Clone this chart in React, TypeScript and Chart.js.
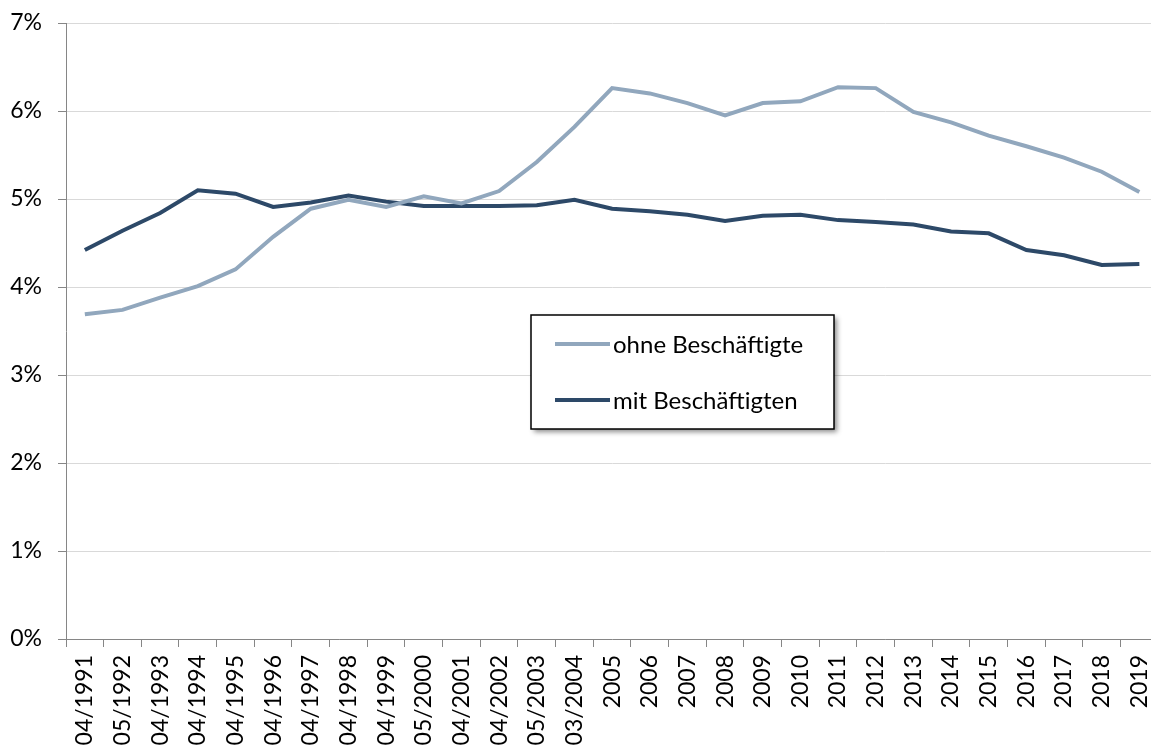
import React, { useEffect, useRef } from "react";
import { Chart, registerables } from "chart.js";

Chart.register(...registerables);

const categories = [
  "04/1991", "05/1992", "04/1993", "04/1994", "04/1995", "04/1996", "04/1997",
  "04/1998", "04/1999", "05/2000", "04/2001", "04/2002", "05/2003", "03/2004",
  "2005", "2006", "2007", "2008", "2009", "2010", "2011", "2012", "2013",
  "2014", "2015", "2016", "2017", "2018", "2019",
];

const ohneBeschaeftigte = [
  3.69, 3.74, 3.88, 4.01, 4.2, 4.57, 4.89, 4.99, 4.91, 5.03, 4.95, 5.09, 5.42,
  5.82, 6.26, 6.2, 6.09, 5.95, 6.09, 6.11, 6.27, 6.26, 5.99, 5.87, 5.72, 5.6,
  5.47, 5.31, 5.08,
];

const mitBeschaeftigten = [
  4.42, 4.64, 4.84, 5.1, 5.06, 4.91, 4.96, 5.04, 4.97, 4.92, 4.92, 4.92, 4.93,
  4.99, 4.89, 4.86, 4.82, 4.75, 4.81, 4.82, 4.76, 4.74, 4.71, 4.63, 4.61, 4.42,
  4.36, 4.25, 4.26,
];

const yTicks = [0, 1, 2, 3, 4, 5, 6, 7];

const FONT = "Lato, 'Open Sans', sans-serif";
const LIGHT = "#91a7bd";
const DARK = "#2d4968";

const legendPlugin = {
  id: "boxLegend",
  afterDraw(chart: any) {
    const ctx = chart.ctx;
    const bx = 531, by = 315, bw = 303, bh = 114;
    ctx.save();
    ctx.shadowColor = "rgba(0,0,0,0.45)";
    ctx.shadowBlur = 5;
    ctx.shadowOffsetX = 3;
    ctx.shadowOffsetY = 3;
    ctx.fillStyle = "#ffffff";
    ctx.fillRect(bx, by, bw, bh);
    ctx.restore();
    ctx.save();
    ctx.strokeStyle = "#000000";
    ctx.lineWidth = 1.5;
    ctx.strokeRect(bx, by, bw, bh);
    const rows = [
      { y: 344, ds: chart.data.datasets[0] },
      { y: 400, ds: chart.data.datasets[1] },
    ];
    ctx.font = "24px " + FONT;
    ctx.textBaseline = "middle";
    ctx.textAlign = "left";
    for (const r of rows) {
      ctx.strokeStyle = r.ds.borderColor;
      ctx.lineWidth = 4;
      ctx.beginPath();
      ctx.moveTo(555, r.y);
      ctx.lineTo(610, r.y);
      ctx.stroke();
      ctx.fillStyle = "#000000";
      ctx.fillText(r.ds.label, 613, r.y + 1);
    }
    ctx.restore();
  },
};

export default function App() {
  const ref = useRef<HTMLCanvasElement>(null);
  useEffect(() => {
    if (!ref.current) return;
    const chart = new Chart(ref.current, {
      type: "line",
      data: {
        labels: categories,
        datasets: [
          {
            label: "ohne Beschäftigte",
            data: ohneBeschaeftigte,
            borderColor: LIGHT,
            backgroundColor: LIGHT,
            borderWidth: 4,
            pointRadius: 0,
            tension: 0,
          },
          {
            label: "mit Beschäftigten",
            data: mitBeschaeftigten,
            borderColor: DARK,
            backgroundColor: DARK,
            borderWidth: 4,
            pointRadius: 0,
            tension: 0,
          },
        ],
      },
      options: {
        animation: false,
        responsive: false,
        maintainAspectRatio: false,
        layout: { padding: { top: 23, right: 2, left: 0, bottom: 0 } },
        plugins: {
          legend: { display: false },
          tooltip: { enabled: false },
        },
        scales: {
          x: {
            type: "category",
            offset: true,
            grid: {
              offset: true,
              drawOnChartArea: false,
              drawTicks: true,
              tickLength: 8,
              tickColor: "#868686",
            },
            border: { color: "#868686", width: 1 },
            ticks: {
              minRotation: 90,
              maxRotation: 90,
              autoSkip: false,
              padding: 8,
              color: "#000000",
              font: { family: FONT, size: 23 },
            },
            afterFit(scale: any) {
              scale.height = 108;
            },
          },
          y: {
            min: 0,
            max: 7,
            afterBuildTicks(scale: any) {
              scale.ticks = yTicks.map((v) => ({ value: v }));
            },
            grid: {
              color: "#d9d9d9",
              lineWidth: 1,
              tickLength: 8,
              tickColor: "#868686",
            },
            border: { color: "#868686", width: 1 },
            ticks: {
              padding: 16,
              color: "#000000",
              font: { family: FONT, size: 23 },
              callback: (v: any) => v + "%",
            },
            afterFit(scale: any) {
              scale.width = 66;
              scale.paddingTop = 0;
              scale.paddingBottom = 0;
            },
          },
        },
      },
      plugins: [legendPlugin],
    });
    return () => chart.destroy();
  }, []);
  return (
    <div
      style={{
        position: "fixed",
        left: 0,
        top: 0,
        width: 1151,
        height: 747,
        overflow: "hidden",
        background: "#fff",
      }}
    >
      <canvas ref={ref} width={1175} height={747} style={{ display: "block" }} />
    </div>
  );
}
